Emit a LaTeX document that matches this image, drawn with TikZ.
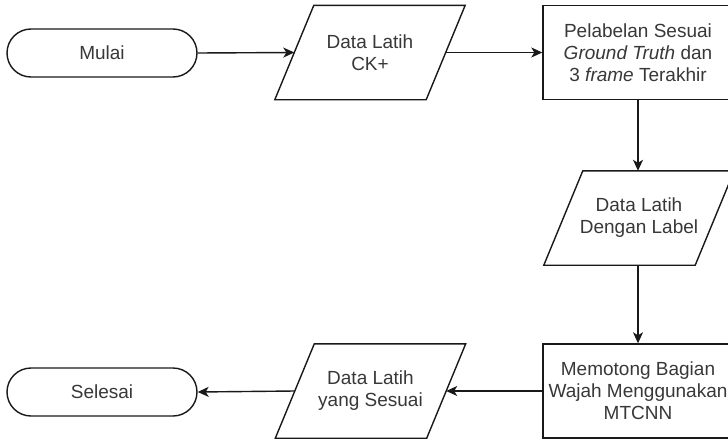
\documentclass[tikz,border=0pt]{standalone}
\usepackage{fontspec}
\setmainfont{Liberation Sans}
\usetikzlibrary{arrows.meta}

% outline of an input/output block drawn around an invisible rectangle node
\newcommand{\iooutline}[1]{%
  \draw[shapeline] ([xshift=-19.5pt]#1.south west) -- ([xshift=-19.5pt]#1.south east)
    -- ([xshift=19.5pt]#1.north east) -- ([xshift=19.5pt]#1.north west) -- cycle;}

\begin{document}
\begin{tikzpicture}[x=1pt, y=-1pt,
  shapeline/.style={draw=black!90, line width=1.4pt, line join=miter},
  txt/.style={text=black!78, font=\fontsize{19}{22}\selectfont, align=center, inner sep=0pt},
  terminal/.style={txt, shapeline, rounded corners=24pt, minimum width=190pt, minimum height=48pt},
  procbox/.style={txt, shapeline, minimum width=190pt, minimum height=94pt},
  iobox/.style={txt, minimum width=151pt, minimum height=94pt},
  flow/.style={draw=black!90, line width=1.4pt, -{Stealth[length=11pt, width=10pt, inset=3pt]}}
]
\useasboundingbox (0,0) rectangle (728,439);
\clip (0,0) rectangle (728,439);
\fill[white] (0,0) rectangle (728,439);

% top row
\node[terminal] (mulai) at (102,53) {Mulai};
\node[iobox] (ck) at (370,52.5) {Data Latih\\CK+};
\iooutline{ck}
\node[procbox] (label) at (638,52.5) {Pelabelan Sesuai\\\textit{Ground Truth} dan\\3 \textit{frame} Terakhir};

% right column
\node[iobox] (dlabel) at (639,218) {Data Latih\\Dengan Label};
\iooutline{dlabel}
\node[procbox] (crop) at (638,391) {Memotong Bagian\\Wajah Menggunakan\\MTCNN};

% bottom row
\node[iobox] (sesuai) at (370.5,391) {Data Latih\\yang Sesuai};
\iooutline{sesuai}
\node[terminal] (selesai) at (102,392) {Selesai};

% connectors
\draw[flow] (mulai.east) -- (ck.west);
\draw[flow] (ck.east) -- (label.west);
\draw[flow] (label.south) -- (label.south |- dlabel.north);
\draw[flow] (label.south |- dlabel.south) -- (crop.north);
\draw[flow] (crop.west) -- (sesuai.east);
\draw[flow] (sesuai.west) -- (selesai.east);
\end{tikzpicture}
\end{document}
